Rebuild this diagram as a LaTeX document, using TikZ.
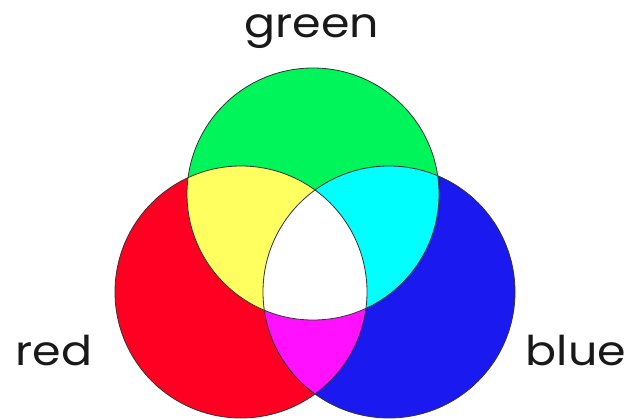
\documentclass[tikz,border=0pt]{standalone}
\usepackage{fontspec}
\setmainfont{Poppins}[FakeStretch=1.12]
\definecolor{cgreen}{HTML}{00F55A}
\definecolor{cred}{HTML}{FF0022}
\definecolor{cblue}{HTML}{1A1AF0}
\definecolor{cyellow}{HTML}{FFFF60}
\definecolor{ccyan}{HTML}{00FFFF}
\definecolor{cmagenta}{HTML}{FF10FF}
\tikzset{
  lbl/.style={anchor=base, inner sep=0pt, font=\fontsize{41}{41}\selectfont, text=black!90},
  rim/.style={draw=black!80, line width=0.8pt}
}
\begin{document}
\begin{tikzpicture}[x=1pt,y=-1pt]
\useasboundingbox (0,0) rectangle (631,419);
\def\rr{126}
\coordinate (R) at (241,292);
\coordinate (G) at (313,194);
\coordinate (B) at (389,292);
\fill[cred] (R) circle[radius=\rr];
\fill[cblue] (B) circle[radius=\rr];
\fill[cgreen] (G) circle[radius=\rr];
\begin{scope}
  \clip (R) circle[radius=\rr];
  \fill[cyellow] (G) circle[radius=\rr];
  \fill[cmagenta] (B) circle[radius=\rr];
\end{scope}
\begin{scope}
  \clip (G) circle[radius=\rr];
  \fill[ccyan] (B) circle[radius=\rr];
\end{scope}
\begin{scope}
  \clip (R) circle[radius=\rr];
  \clip (G) circle[radius=\rr];
  \fill[white] (B) circle[radius=\rr];
\end{scope}
\draw[rim] (R) circle[radius=\rr];
\draw[rim] (G) circle[radius=\rr];
\draw[rim] (B) circle[radius=\rr];
\node[lbl] (tg) at (312,38) {green};
\node[lbl] (tr) at (54,365) {red};
\node[lbl] (tb) at (576,365) {blue};
\end{tikzpicture}
\end{document}
